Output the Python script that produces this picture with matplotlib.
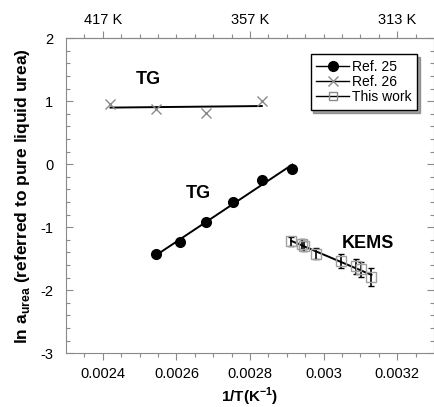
import matplotlib.pyplot as plt
import numpy as np

plt.rcParams['font.family'] = ['Liberation Sans', 'DejaVu Sans']
plt.rcParams['mathtext.fontset'] = 'custom'
plt.rcParams['mathtext.rm'] = 'Liberation Sans'
plt.rcParams['mathtext.bf'] = 'Liberation Sans:bold'
plt.rcParams['axes.unicode_minus'] = False

# Ref. 25 (TG)
x_ref25 = [0.002545, 0.002611, 0.002681, 0.002755, 0.002833, 0.002915]
y_ref25 = [-1.43, -1.24, -0.91, -0.60, -0.25, -0.07]

# Ref. 26 (TG)
x_ref26 = [0.002421, 0.002544, 0.002681, 0.002832]
y_ref26 = [0.956, 0.88, 0.813, 0.997]

# This work (KEMS)
x_this = [0.002912, 0.002941, 0.002948, 0.002979, 0.003048, 0.003087, 0.003101, 0.00313]
y_this = [-1.22, -1.27, -1.30, -1.42, -1.54, -1.62, -1.67, -1.79]
err_this = [0.07, 0.08, 0.08, 0.09, 0.11, 0.12, 0.12, 0.14]

top_ticks = [0.0024, 0.0028, 0.0032]
top_labels = ['417 K', '357 K', '313 K']

GREY = '#8a8a8a'


def fit_line(x, y):
    p = np.polyfit(x, y, 1)
    xs = np.array([min(x), max(x)])
    return xs, np.polyval(p, xs)


fig = plt.figure(figsize=(4.34, 4.07), dpi=100)
ax = fig.add_axes([0.152, 0.132, 0.848, 0.774])

# Ref. 25
ax.plot(x_ref25, y_ref25, 'o', color='black', ms=7, zorder=3)
xs, ys = fit_line(x_ref25, y_ref25)
ax.plot(xs, ys, color='black', lw=1.4)

# Ref. 26
ax.plot(x_ref26, y_ref26, 'x', color=GREY, ms=7, mew=1.0, zorder=3)
xs, ys = fit_line(x_ref26, y_ref26)
ax.plot(xs, ys, color='black', lw=1.4)

# This work
ax.errorbar(x_this, y_this, yerr=err_this, fmt='s', ms=6.5, mfc='none',
            mec='#a0a0a0', mew=1.0, ecolor='black', elinewidth=1.2,
            capsize=2.5, capthick=1.2, zorder=3)
xs, ys = fit_line(x_this, y_this)
ax.plot(xs, ys, color='black', lw=1.4)

# legend handles
h1, = ax.plot([], [], '-o', color='black', ms=7, lw=1.0)
h2, = ax.plot([], [], '-x', color='black', mec=GREY, ms=7, lw=1.0)
h3, = ax.plot([], [], '-s', color='black', mec=GREY, mfc='none', ms=6, lw=1.0)
leg = ax.legend([h1, h2, h3], ['Ref. 25', 'Ref. 26', 'This work'],
                loc='upper right', bbox_to_anchor=(0.955, 0.95), fontsize=10,
                frameon=True, fancybox=False, shadow=True, handlelength=2.4,
                handletextpad=0.2, borderpad=0.4, labelspacing=0.1,
                borderaxespad=0.0)
leg.get_frame().set_edgecolor('black')
leg.get_frame().set_linewidth(1.0)

ax.text(0.002525, 1.35, 'TG', fontsize=13, fontweight='bold', ha='center', va='center')
ax.text(0.00266, -0.47, 'TG', fontsize=13, fontweight='bold', ha='center', va='center')
ax.text(0.00312, -1.25, 'KEMS', fontsize=13, fontweight='bold', ha='center', va='center')

ax.set_xlim(0.0023, 0.0033)
ax.set_ylim(-3, 2)
ax.set_xticks([0.0024, 0.0026, 0.0028, 0.003, 0.0032])
ax.set_xticklabels(['0.0024', '0.0026', '0.0028', '0.003', '0.0032'])
ax.set_xticks(np.arange(0.00235, 0.0033, 0.00005), minor=True)
ax.set_yticks([-3, -2, -1, 0, 1, 2])
ax.set_yticks(np.arange(-3, 2.01, 0.2), minor=True)
ax.tick_params(axis='both', which='both', colors=GREY, labelcolor='black',
               labelsize=10.5, width=0.8)
ax.tick_params(axis='x', which='major', direction='out', length=5, pad=5)
ax.tick_params(axis='x', which='minor', direction='out', length=3)
ax.tick_params(axis='y', which='major', direction='in', length=5,
               right=True, pad=9)
ax.tick_params(axis='y', which='minor', direction='in', length=3, right=True)

for s in ax.spines.values():
    s.set_color(GREY)
    s.set_linewidth(0.8)

ax.set_xlabel(r'1/T(K$^{\mathbf{-1}}$)', fontsize=11, fontweight='bold',
              labelpad=3)
ax.set_ylabel(r'ln a$_{\mathbf{urea}}$ (referred to pure liquid urea)',
              fontsize=12.5, fontweight='bold', labelpad=6)

top = ax.secondary_xaxis('top')
top.set_xticks(top_ticks)
top.set_xticklabels(top_labels)
top.set_xticks(np.arange(0.00235, 0.0033, 0.00005), minor=True)
top.tick_params(axis='x', which='both', colors=GREY, labelcolor='black',
                labelsize=10.5, direction='out', width=0.8)
top.tick_params(axis='x', which='major', length=5, pad=3)
top.tick_params(axis='x', which='minor', length=3)
top.spines['top'].set_color(GREY)
top.spines['top'].set_linewidth(0.8)

fig.savefig('out.png', dpi=100)
